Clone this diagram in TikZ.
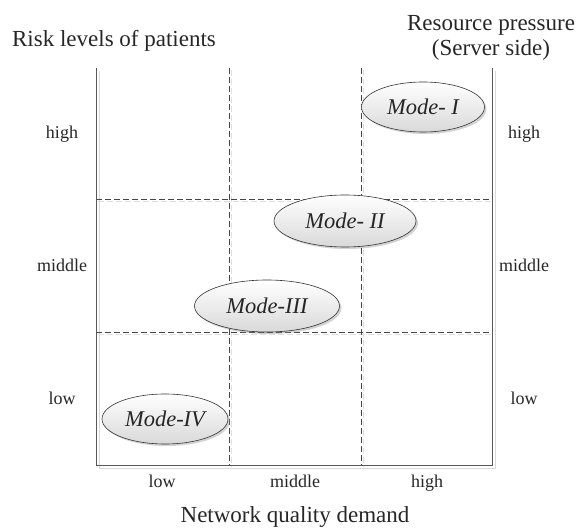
\documentclass[tikz,border=0pt]{standalone}
\usepackage{fontspec}
\setmainfont{Liberation Serif}
\usetikzlibrary{shapes.geometric,shadows}
\begin{document}
\begin{tikzpicture}[x=1pt,y=-1pt,
  axisline/.style={draw=gray!70!black,line width=1pt},
  axisshadow/.style={draw=gray!30,line width=1pt,transform canvas={shift={(3pt,-3pt)}}},
  gridline/.style={draw=gray!55!black,dash pattern=on 6pt off 3pt,line width=0.8pt},
  gridshadow/.style={draw=gray!25,dash pattern=on 6pt off 3pt,line width=0.8pt,transform canvas={shift={(2pt,-2pt)}}},
  mode/.style={ellipse,draw=black!80,line width=0.6pt,shading=axis,top color=white,bottom color=gray!30,inner sep=0pt,font=\fontsize{22.5}{26}\selectfont\itshape,text=black!85,drop shadow={shadow xshift=2pt,shadow yshift=-2pt,opacity=0.35}},
  lbl/.style={font=\fontsize{18}{21}\selectfont,text=black!85,inner sep=0pt,anchor=base},
  ttl/.style={font=\fontsize{23}{27}\selectfont,text=black!85,inner sep=0pt,anchor=base}]
\useasboundingbox (0,0) rectangle (578,529);
% frame and grid coordinates
\coordinate (tl) at (96,68);
\coordinate (bl) at (96,465);
\coordinate (br) at (492,465);
\coordinate (tr) at (492,68);
\coordinate (v1t) at (229,68);
\coordinate (v1b) at (229,465);
\coordinate (v2t) at (361,68);
\coordinate (v2b) at (361,465);
\coordinate (h1l) at (96,199);
\coordinate (h1r) at (492,199);
\coordinate (h2l) at (96,332);
\coordinate (h2r) at (492,332);
% shadows
\draw[gridshadow] (v1t) -- (v1b) (v2t) -- (v2b) (h1l) -- (h1r) (h2l) -- (h2r);
\draw[axisshadow] (tl) -- (bl) -- (br) -- (tr);
% grid
\draw[gridline] (v1t) -- (v1b) (v2t) -- (v2b) (h1l) -- (h1r) (h2l) -- (h2r);
% frame
\draw[axisline] (tl) -- (bl) -- (br) -- (tr);
% modes
\node[mode,minimum width=123pt,minimum height=50pt] (m1) at (423,107) {Mode- I};
\node[mode,minimum width=142pt,minimum height=52pt] (m2) at (345,221) {Mode- II};
\node[mode,minimum width=145pt,minimum height=52pt] (m3) at (267,306) {Mode-III};
\node[mode,minimum width=126pt,minimum height=50pt] (m4) at (165,419) {Mode-IV};
% titles
\node[ttl] (t1) at (114,47) {Risk levels of patients};
\node[ttl] (t2) at (491,31) {Resource pressure};
\node[ttl] (t3) at (491,56) {(Server side)};
\node[ttl] (t4) at (295,522) {Network quality demand};
% left labels
\node[lbl] (lh) at (62,139) {high};
\node[lbl] (lm) at (62,272) {middle};
\node[lbl] (ll) at (62,404) {low};
% right labels
\node[lbl] (rh) at (524,139) {high};
\node[lbl] (rm) at (524,272) {middle};
\node[lbl] (rl) at (524,404) {low};
% bottom labels
\node[lbl] (bl1) at (162,487) {low};
\node[lbl] (bl2) at (295,487) {middle};
\node[lbl] (bl3) at (427,487) {high};
\end{tikzpicture}
\end{document}
